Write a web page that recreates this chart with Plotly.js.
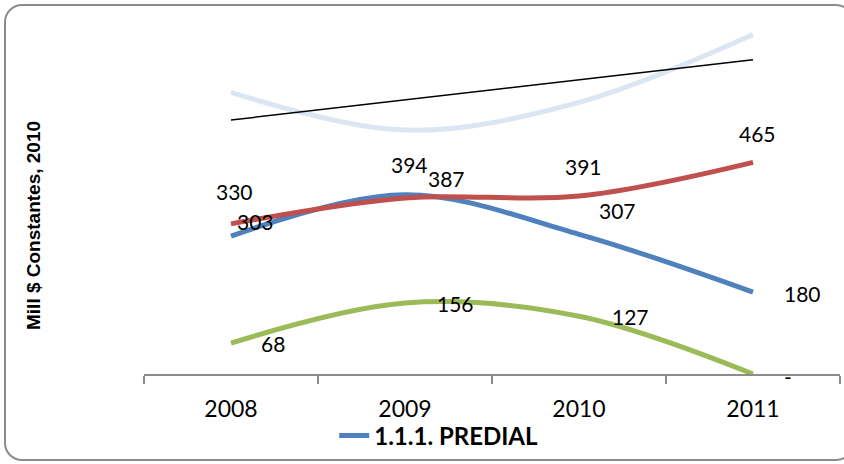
<!DOCTYPE html>
<html>
<head>
<meta charset="utf-8">
<script src="https://cdn.plot.ly/plotly-3.0.1.min.js"></script>
<style>
  html, body { margin: 0; padding: 0; background: #fff; overflow: hidden; }
  #wrap { position: relative; width: 844px; height: 464px; overflow: hidden; }
  #chart { width: 844px; height: 464px; }
  #frame { position: absolute; left: 4px; top: 4px; width: 846px; height: 453px;
           border: 2px solid #8c8c8c; border-radius: 18px; pointer-events: none; }
</style>
</head>
<body>
<div id="wrap">
  <div id="chart"></div>
  <div id="frame"></div>
</div>
<script>
// ---- data ----
const years = ['2008', '2009', '2010', '2011'];
const predial = [303, 394, 307, 180];          // 1.1.1. PREDIAL (blue)
const serieRed = [330, 387, 391, 465];         // red series
const serieGreen = [68, 156, 127, 0];          // green series
const serieLight = [619, 536, 597, 746];       // light blue series (no labels)
const seriesNames = ['1.1.1. PREDIAL', 'Serie 2', 'Serie 3', 'Serie 4'];

// linear trendline of the light series (least squares), as in Excel
function linearTrend(vals) {
  const n = vals.length;
  const xs = vals.map((_, i) => i);
  const mx = xs.reduce((a, b) => a + b, 0) / n;
  const my = vals.reduce((a, b) => a + b, 0) / n;
  let sxy = 0, sxx = 0;
  xs.forEach((x, i) => { sxy += (x - mx) * (vals[i] - my); sxx += (x - mx) * (x - mx); });
  const b = sxy / sxx, a = my - b * mx;
  return xs.map(x => a + b * x);
}
const trend = linearTrend(serieLight);

const colors = { blue: '#4F81BD', red: '#C0504D', green: '#9BBB59', light: '#DCE6F2' };

const traces = [
  { x: years, y: serieLight, name: seriesNames[3], type: 'scatter', mode: 'lines',
    line: { color: colors.light, width: 5, shape: 'spline', smoothing: 1 }, showlegend: false },
  { x: years, y: trend, name: 'Lineal (' + seriesNames[3] + ')', type: 'scatter', mode: 'lines',
    line: { color: '#000000', width: 1.5 }, showlegend: false },
  { x: years, y: predial, name: seriesNames[0], type: 'scatter', mode: 'lines',
    line: { color: colors.blue, width: 5, shape: 'spline', smoothing: 1 }, showlegend: true },
  { x: years, y: serieRed, name: seriesNames[1], type: 'scatter', mode: 'lines',
    line: { color: colors.red, width: 5, shape: 'spline', smoothing: 1 }, showlegend: false },
  { x: years, y: serieGreen, name: seriesNames[2], type: 'scatter', mode: 'lines',
    line: { color: colors.green, width: 5, shape: 'spline', smoothing: 1 }, showlegend: false }
];

// data label offsets (pixels) per series/point – styling only
const labelOffsets = {
  blue:  [[24, 15], [4, 30], [38, 24], [49, -1]],
  red:   [[3, 32], [41, 19], [4, 30], [4, 29]],
  green: [[42, 0], [50, 0], [51, 0], [35, -2]]
};
const fmt = v => (v === 0 ? '-' : String(v));
const annotations = [];
function addLabels(vals, offs) {
  vals.forEach((v, i) => {
    annotations.push({
      x: i, y: v, xref: 'x', yref: 'y', text: fmt(v), showarrow: false,
      xanchor: 'center', yanchor: 'middle',
      xshift: offs[i][0], yshift: offs[i][1],
      font: { family: 'Lato, Arial, sans-serif', size: 21, color: '#000' }
    });
  });
}
addLabels(predial, labelOffsets.blue);
addLabels(serieRed, labelOffsets.red);
addLabels(serieGreen, labelOffsets.green);

annotations.push({
  text: 'Mill $ Constantes, 2010', xref: 'paper', yref: 'paper',
  x: (33 - 144) / 696, y: (374 - 225) / 364, textangle: -90, showarrow: false,
  xanchor: 'center', yanchor: 'middle',
  font: { family: 'Liberation Sans, Arial, sans-serif', size: 19, color: '#000', weight: 'bold' }
});

const layout = {
  width: 844, height: 464,
  margin: { l: 144, r: 4, t: 10, b: 90 },
  paper_bgcolor: '#ffffff', plot_bgcolor: '#ffffff',
  showlegend: true,
  legend: {
    orientation: 'h', xref: 'container', yref: 'container',
    x: 0.396, y: 1 - 436 / 464, xanchor: 'left', yanchor: 'middle',
    font: { family: 'Lato, Arial, sans-serif', size: 24, color: '#000', weight: 'bold' },
    bgcolor: 'rgba(0,0,0,0)'
  },
  xaxis: {
    type: 'category', range: [-0.5, 3.5], tickson: 'boundaries',
    ticks: 'outside', ticklen: 8, tickwidth: 1.5, tickcolor: '#8c8c8c',
    ticklabelstandoff: 14,
    showline: true, linecolor: '#8c8c8c', linewidth: 1.5,
    showgrid: false, zeroline: false,
    tickfont: { family: 'Lato, Arial, sans-serif', size: 23, color: '#000' }
  },
  yaxis: {
    range: [0, 800], showticklabels: false, showgrid: false, zeroline: false,
    showline: false, ticks: ''
  },
  annotations: annotations
};

Plotly.newPlot('chart', traces, layout, { staticPlot: true, displayModeBar: false });
</script>
</body>
</html>
